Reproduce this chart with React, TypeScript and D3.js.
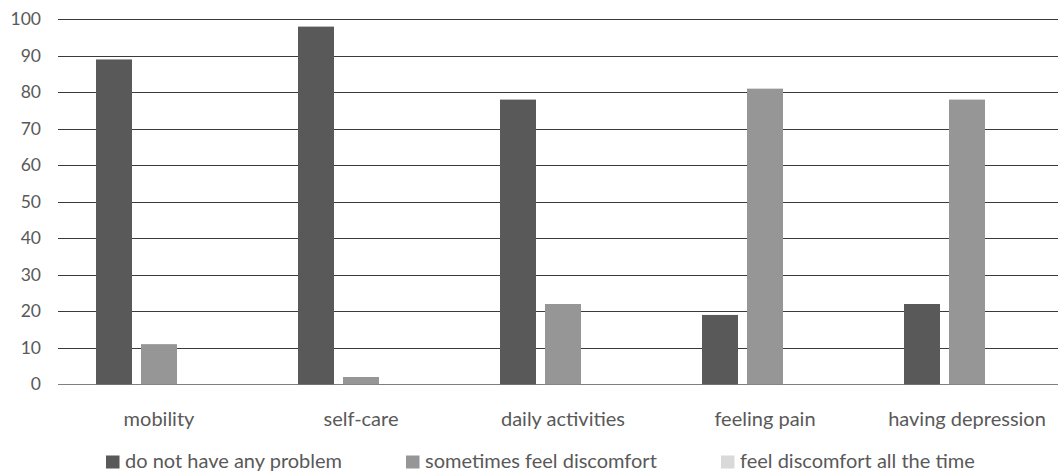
import React from "react";
import * as d3 from "d3";

const categories = ["mobility", "self-care", "daily activities", "feeling pain", "having depression"];
const seriesNames = ["do not have any problem", "sometimes feel discomfort", "feel discomfort all the time"];
const noProblem = [89, 98, 78, 19, 22];
const sometimes = [11, 2, 22, 81, 78];
const allTime = [0, 0, 0, 0, 0];
const yTicks = [0, 10, 20, 30, 40, 50, 60, 70, 80, 90, 100];
const colors = ["#595959", "#969696", "#d9d9d9"];

const W = 1058;
const H = 473;
const FONT = "Lato, 'Open Sans', sans-serif";

export default function App() {
  const series = [noProblem, sometimes, allTime];
  const x0 = d3.scaleBand<string>().domain(categories).range([58, 58 + 202 * 5]).paddingInner(0).paddingOuter(0);
  const x1 = d3.scaleBand<number>().domain([0, 1, 2]).range([38, 38 + 126]).paddingInner(0.2).paddingOuter(0);
  const y = d3.scaleLinear().domain([0, 100]).range([384.3, 19.3]);
  const legendX = [106, 406, 721];

  return (
    <svg width={W} height={H} style={{ position: "absolute", left: 0, top: 0, display: "block", background: "#fff" }}>
      {yTicks.map((t) => (
        <g key={t}>
          <line x1={58} x2={W} y1={Math.round(y(t)) + 0.5} y2={Math.round(y(t)) + 0.5} stroke={t === 0 ? "#7f7f7f" : "#3a3a3a"} strokeWidth={1} />
          <text x={41} y={y(t) + 6} textAnchor="end" fontFamily={FONT} fontSize={17.5} fill="#595959">{t}</text>
        </g>
      ))}
      {categories.map((c, i) => (
        <g key={c} transform={`translate(${x0(c)},0)`}>
          {series.map((s, k) => (
            <rect key={k} x={x1(k)} y={y(s[i])} width={x1.bandwidth()} height={y(0) - y(s[i])} fill={colors[k]} />
          ))}
          <text x={x0.bandwidth() / 2} y={426} textAnchor="middle" fontFamily={FONT} fontSize={20} fill="#595959">{c}</text>
        </g>
      ))}
      {seriesNames.map((n, k) => (
        <g key={n}>
          <rect x={legendX[k]} y={455.5} width={13.5} height={13} fill={colors[k]} />
          <text x={legendX[k] + 19} y={468} fontFamily={FONT} fontSize={20} fill="#595959">{n}</text>
        </g>
      ))}
    </svg>
  );
}
